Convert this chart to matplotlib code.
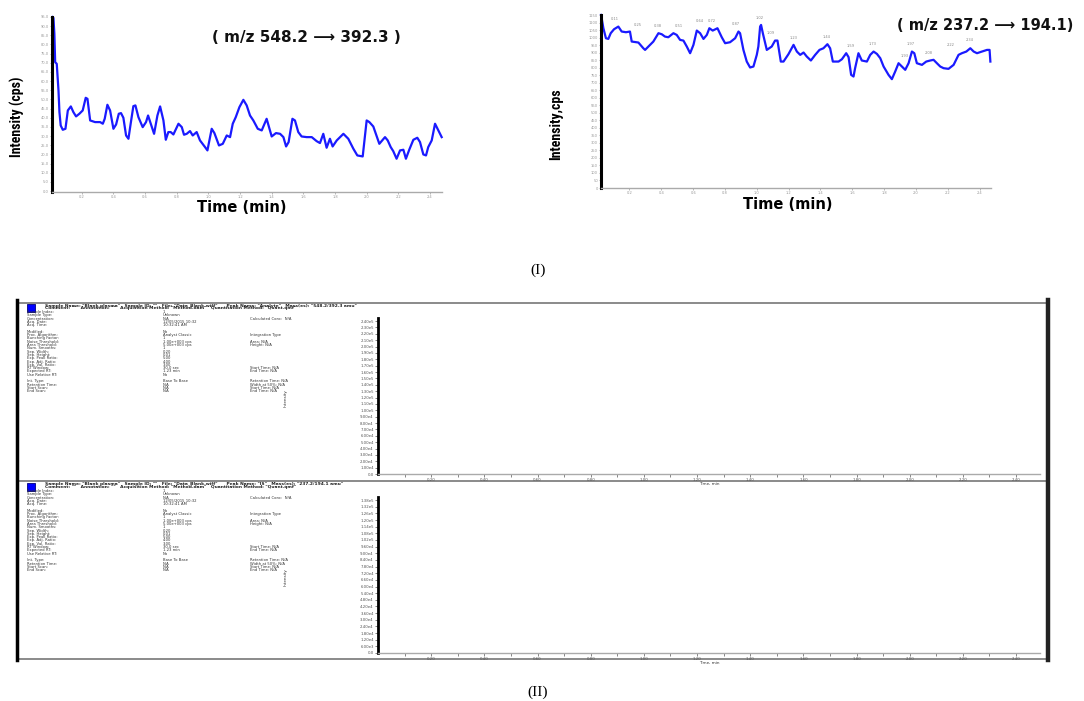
import matplotlib
matplotlib.use("Agg")
import matplotlib.pyplot as plt
from matplotlib.patches import Rectangle
from matplotlib import font_manager

# ---------------- data ----------------
# Chromatogram 1 (m/z 548.2 -> 392.3)
t1 = [0.016, 0.021, 0.027, 0.032, 0.042, 0.053, 0.059, 0.067, 0.080, 0.097, 0.112, 0.131, 0.147,
      0.164, 0.185, 0.206, 0.225, 0.236, 0.253, 0.284, 0.316, 0.333, 0.345, 0.362, 0.379, 0.400,
      0.417, 0.434, 0.448, 0.463, 0.480, 0.495, 0.509, 0.526, 0.539, 0.558, 0.585, 0.606, 0.619,
      0.636, 0.657, 0.678, 0.695, 0.716, 0.731, 0.747, 0.762, 0.779, 0.811, 0.832, 0.846, 0.863,
      0.884, 0.901, 0.926, 0.947, 0.979, 0.994, 1.021, 1.038, 1.067, 1.091, 1.116, 1.137, 1.154,
      1.173, 1.196, 1.221, 1.242, 1.263, 1.284, 1.312, 1.337, 1.368, 1.400, 1.427, 1.453, 1.474,
      1.491, 1.507, 1.531, 1.547, 1.568, 1.589, 1.621, 1.653, 1.684, 1.705, 1.726, 1.747, 1.768,
      1.785, 1.811, 1.853, 1.884, 1.916, 1.941, 1.975, 2.000, 2.017, 2.042, 2.080, 2.116, 2.133,
      2.152, 2.168, 2.189, 2.211, 2.232, 2.248, 2.269, 2.295, 2.320, 2.337, 2.358, 2.375, 2.389,
      2.411, 2.432, 2.453, 2.474]
i1 = [19.00, 18.91, 17.16, 14.07, 13.89, 10.98, 8.62, 7.16, 6.69, 6.80, 8.80, 9.24, 8.62,
      8.15, 8.44, 8.80, 10.18, 10.07, 7.71, 7.53, 7.53, 7.35, 7.89, 9.42, 8.80, 6.80,
      7.27, 8.44, 8.51, 8.00, 6.07, 5.71, 7.35, 9.27, 9.35, 8.07, 6.98, 7.53, 8.25,
      7.35, 6.25, 8.25, 9.24, 7.71, 5.60, 6.44, 6.44, 6.18, 7.35, 6.98, 6.15, 6.25,
      6.55, 6.07, 6.44, 5.53, 4.80, 4.44, 6.80, 6.33, 4.98, 5.16, 6.07, 5.89, 7.35,
      8.07, 9.16, 9.96, 9.35, 8.25, 7.71, 6.80, 6.62, 7.89, 5.96, 6.33, 6.25, 5.89,
      4.87, 5.35, 7.89, 7.71, 6.44, 5.96, 5.89, 5.89, 5.45, 5.24, 6.25, 4.73, 5.71,
      4.87, 5.53, 6.25, 5.71, 4.62, 3.89, 3.78, 7.71, 7.53, 7.05, 5.16, 5.89, 5.53,
      4.80, 4.36, 3.53, 4.44, 4.51, 3.53, 4.51, 5.60, 5.82, 5.35, 4.00, 3.89, 4.80,
      5.53, 7.35, 6.62, 5.89]

# Chromatogram 2 (m/z 237.2 -> 194.1)
t2 = [0.021, 0.027, 0.036, 0.052, 0.067, 0.082, 0.103, 0.130, 0.151, 0.178, 0.203, 0.214, 0.256,
      0.287, 0.298, 0.319, 0.350, 0.382, 0.403, 0.423, 0.444, 0.476, 0.497, 0.518, 0.539, 0.560,
      0.581, 0.602, 0.623, 0.644, 0.665, 0.686, 0.702, 0.723, 0.753, 0.780, 0.801, 0.832, 0.864,
      0.885, 0.895, 0.916, 0.937, 0.958, 0.979, 1.000, 1.010, 1.021, 1.027, 1.038, 1.063, 1.094,
      1.115, 1.130, 1.151, 1.168, 1.199, 1.231, 1.252, 1.273, 1.294, 1.314, 1.340, 1.367, 1.394,
      1.419, 1.444, 1.461, 1.478, 1.514, 1.535, 1.562, 1.577, 1.593, 1.608, 1.618, 1.639, 1.660,
      1.692, 1.713, 1.734, 1.755, 1.776, 1.797, 1.828, 1.849, 1.870, 1.891, 1.912, 1.933, 1.954,
      1.975, 1.990, 2.006, 2.038, 2.065, 2.090, 2.111, 2.132, 2.153, 2.174, 2.205, 2.237, 2.268,
      2.289, 2.317, 2.342, 2.363, 2.384, 2.415, 2.447, 2.463, 2.468]
i2 = [23.01, 22.35, 21.24, 19.91, 19.82, 20.58, 21.11, 21.46, 20.80, 20.71, 20.80, 19.47, 19.34,
      18.58, 18.36, 18.81, 19.47, 20.58, 20.44, 20.13, 20.04, 20.58, 20.35, 19.69, 19.60, 18.81,
      17.92, 19.03, 20.93, 20.58, 19.82, 20.35, 21.24, 20.93, 21.24, 20.04, 19.25, 19.38, 19.91,
      20.80, 20.58, 18.36, 16.81, 16.02, 16.15, 17.70, 18.81, 21.46, 21.68, 20.58, 18.36, 18.81,
      19.60, 19.60, 16.81, 16.81, 17.79, 19.03, 18.14, 17.70, 18.01, 17.48, 16.95, 17.70, 18.36,
      18.58, 19.12, 18.58, 16.81, 16.81, 17.12, 17.92, 17.39, 15.04, 14.82, 15.93, 17.92, 16.95,
      16.81, 17.70, 18.14, 17.83, 17.26, 16.15, 15.04, 14.47, 15.49, 16.59, 16.15, 15.71, 16.59,
      18.14, 17.92, 16.59, 16.37, 16.81, 16.95, 17.04, 16.59, 16.15, 15.93, 15.84, 16.37, 17.70,
      17.92, 18.14, 18.58, 18.14, 17.92, 18.14, 18.36, 18.36, 16.81]

peak_t2 = [0.11, 0.25, 0.38, 0.51, 0.64, 0.72, 0.87, 1.02, 1.09, 1.23, 1.44, 1.59, 1.73,
           1.93, 1.97, 2.08, 2.22, 2.34]
peak_i2 = [21.8, 21.0, 20.9, 20.9, 21.6, 21.6, 21.1, 22.0, 19.9, 19.3, 19.4, 18.2, 18.5,
           16.9, 18.5, 17.3, 18.3, 19.0]

time_ticks = [0.2, 0.4, 0.6, 0.8, 1.0, 1.2, 1.4, 1.6, 1.8, 2.0, 2.2, 2.4]
time_tick_labels = ["0.2", "0.4", "0.6", "0.8", "1.0", "1.2", "1.4", "1.6", "1.8", "2.0", "2.2", "2.4"]

title1 = "( m/z 548.2 \u27f6 392.3 )"
title2 = "( m/z 237.2 \u27f6 194.1)"

# Panel (II) parameter text
header_lines = ['Sample Name: "Blank plasma"   Sample ID: ""   File: "Data_Blank.wiff"      Peak Name: "Analyte"   Mass(es): "548.2/392.3 amu"',
                'Comment: ""   Annotation: ""   Acquisition Method: "Method.dam"   Quantitation Method: "Quant.qmf"']
header_lines2 = ['Sample Name: "Blank plasma"   Sample ID: ""   File: "Data_Blank.wiff"      Peak Name: "IS"   Mass(es): "237.2/194.1 amu"',
                 'Comment: ""   Annotation: ""   Acquisition Method: "Method.dam"   Quantitation Method: "Quant.qmf"']
param_rows = [
    ("Sample Index:", "1", ""),
    ("Sample Type:", "Unknown", ""),
    ("Concentration:", "N/A", "Calculated Conc:  N/A"),
    ("Acq. Date:", "12/05/2015 10:32", ""),
    ("Acq. Time:", "10:32:41 AM", ""),
    ("", "", ""),
    ("Modified:", "No", ""),
    ("Proc. Algorithm:", "Analyst Classic", "Integration Type"),
    ("Bunching Factor:", "1", ""),
    ("Noise Threshold:", "1.00e+003 cps", "Area: N/A"),
    ("Area Threshold:", "5.00e+003 cps", "Height: N/A"),
    ("Num. Smooths:", "1", ""),
    ("Sep. Width:", "0.20", ""),
    ("Sep. Height:", "0.01", ""),
    ("Exp. Peak Ratio:", "5.00", ""),
    ("Exp. Adj. Ratio:", "4.00", ""),
    ("Exp. Val. Ratio:", "3.00", ""),
    ("RT Window:", "30.0 sec", "Start Time: N/A"),
    ("Expected RT:", "1.23 min", "End Time: N/A"),
    ("Use Relative RT:", "No", ""),
    ("", "", ""),
    ("Int. Type:", "Base To Base", "Retention Time: N/A"),
    ("Retention Time:", "N/A", "Width at 50%: N/A"),
    ("Start Scan:", "N/A", "Start Time: N/A"),
    ("End Scan:", "N/A", "End Time: N/A"),
]
sub_y_ticks1 = [k * 1.0e4 for k in range(25)]
sub_y_ticks2 = [k * 6.0e3 for k in range(24)]
sub_x_ticks = [0.2, 0.4, 0.6, 0.8, 1.0, 1.2, 1.4, 1.6, 1.8, 2.0, 2.2, 2.4]
sub_x_labels = ["0.20", "0.40", "0.60", "0.80", "1.00", "1.20", "1.40", "1.60", "1.80", "2.00", "2.20", "2.40"]

# ---------------- fonts ----------------
installed = {f.name for f in font_manager.fontManager.ttflist}
narrow_candidates = ["Liberation Sans Narrow", "DejaVu Sans Condensed", "Roboto Condensed",
                     "Open Sans Condensed", "Noto Sans Condensed"]
narrow_found = [n for n in narrow_candidates if n in installed]
narrow = narrow_found[:1] + ["DejaVu Sans"]
narrow_size = 10 if narrow_found else 7.5

# ---------------- figure ----------------
W, H = 1084, 701
fig = plt.figure(figsize=(W / 100, H / 100), dpi=100)
fig.patch.set_facecolor("white")


def px_axes(left, top, right, bottom):
    return fig.add_axes([left / W, 1 - bottom / H, (right - left) / W, (bottom - top) / H])


BLUE = "#1a1aff"


def style_top(ax, yticks, ylabels):
    for s in ["top", "right"]:
        ax.spines[s].set_visible(False)
    ax.spines["left"].set_color("black")
    ax.spines["left"].set_linewidth(2.2)
    ax.spines["bottom"].set_color("#aaaaaa")
    ax.spines["bottom"].set_linewidth(1.0)
    ax.set_xticks(time_ticks)
    ax.set_xticklabels(time_tick_labels)
    ax.set_yticks(yticks)
    ax.set_yticklabels(ylabels)
    ax.tick_params(axis="both", length=1.5, width=0.5, colors="#999999", labelsize=2.6, pad=0.6)
    ax.set_facecolor("white")


# top-left chromatogram
ax1 = px_axes(52, 17, 442, 192)
ax1.plot(t1, i1, color=BLUE, lw=1.6, clip_on=False)
ax1.set_xlim(0.012, 2.476)
ax1.set_ylim(-0.1, 19.0)
yt1 = list(range(0, 20))
style_top(ax1, yt1, [f"{v * 5:.1f}" for v in yt1])
fig.text(306 / W, 1 - 38 / H, title1, fontsize=11, fontweight="bold", ha="center", va="center", color="#111111")
fig.text(17 / W, 1 - 117 / H, "Intensity (cps)", family=narrow, fontsize=narrow_size, fontweight="bold",
         rotation=90, ha="center", va="center")
fig.text(242 / W, 1 - 207 / H, "Time (min)", fontsize=10.5, fontweight="bold", ha="center", va="center")

# top-right chromatogram
ax2 = px_axes(601, 15, 991, 188)
ax2.plot(t2, i2, color=BLUE, lw=1.6, clip_on=False)
ax2.set_xlim(0.021, 2.472)
ax2.set_ylim(0, 23.0)
yt2 = list(range(0, 24))
style_top(ax2, yt2, [f"{v * 50:.0f}" for v in yt2])
for pt, pi in zip(peak_t2, peak_i2):
    ax2.text(pt, pi + 0.4, f"{pt:.2f}", fontsize=2.6, color="#888888", ha="center", va="bottom")
fig.text(985 / W, 1 - 25 / H, title2, fontsize=10.5, fontweight="bold", ha="center", va="center", color="#111111")
fig.text(556 / W, 1 - 124 / H, "Intensity,cps", family=narrow, fontsize=narrow_size, fontweight="bold",
         rotation=90, ha="center", va="center")
fig.text(788 / W, 1 - 204 / H, "Time (min)", fontsize=10.5, fontweight="bold", ha="center", va="center")

serif = ["Liberation Serif", "DejaVu Serif"]
fig.text(538 / W, 1 - 270 / H, "(I)", family=serif, fontsize=11, ha="center", va="center")
fig.text(538 / W, 1 - 692 / H, "(II)", family=serif, fontsize=11, ha="center", va="center")

# ---------------- panel (II) ----------------
bg = fig.add_axes([0, 0, 1, 1], zorder=-1)
bg.set_xlim(0, W)
bg.set_ylim(H, 0)
bg.axis("off")

for yy in (303, 481, 659):
    bg.plot([17, 1047], [yy, yy], color="#777777", lw=1.2)
bg.plot([17, 17], [300, 660], color="black", lw=2.5)
bg.plot([1048, 1048], [300, 660], color="#222222", lw=3.2)

for top, hdr in ((303, header_lines), (482, header_lines2)):
    bg.add_patch(Rectangle((27, top + 1), 8, 8, facecolor="#0000ff", edgecolor="#000080", lw=0.6))
    for k, line in enumerate(hdr):
        bg.text(45, top + 0.5 + k * 2.8, line, fontsize=3.2, fontweight="bold", color="#222222",
                va="top", ha="left")
    y = top + 7
    for lab, val, extra in param_rows:
        if lab:
            bg.text(27, y, lab, fontsize=2.7, color="#333333", va="top", ha="left")
            bg.text(163, y, val, fontsize=2.7, color="#333333", va="top", ha="left")
            if extra:
                bg.text(250, y, extra, fontsize=2.7, color="#333333", va="top", ha="left")
        y += 3.3
    bg.text(286, top + 95, "Intensity", fontsize=3, color="#333333", rotation=90, ha="center", va="center")


def style_sub(ax, yticks):
    for s in ["top", "right"]:
        ax.spines[s].set_visible(False)
    ax.spines["left"].set_color("black")
    ax.spines["left"].set_linewidth(2.0)
    ax.spines["bottom"].set_color("#aaaaaa")
    ax.spines["bottom"].set_linewidth(1.0)
    ax.set_xlim(0, 2.49)
    ax.set_ylim(0, yticks[-1] * 1.02)
    ax.set_yticks(yticks)
    ax.set_yticklabels(["0.0"] + [f"{v:.2e}".replace("e+0", "e") for v in yticks[1:]])
    ax.set_xticks(sub_x_ticks)
    ax.set_xticklabels(sub_x_labels)
    ax.set_xticks([v - 0.1 for v in sub_x_ticks], minor=True)
    ax.tick_params(axis="both", which="both", length=2, width=0.5, colors="#555555", labelsize=2.8, pad=1)
    ax.set_xlabel("Time, min", fontsize=3, labelpad=0, color="#333333")
    ax.patch.set_alpha(0)


sa1 = px_axes(378, 318, 1040, 474)
style_sub(sa1, sub_y_ticks1)
sa2 = px_axes(378, 497, 1040, 653)
style_sub(sa2, sub_y_ticks2)

fig.savefig("out.png", dpi=100, facecolor="white")
